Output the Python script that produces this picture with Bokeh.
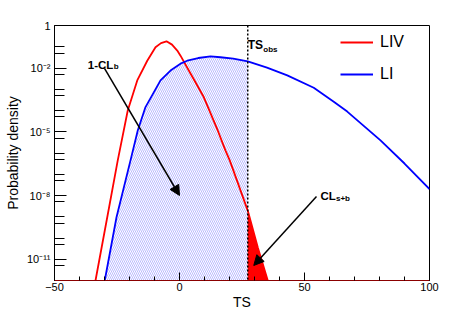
from bokeh.plotting import figure
from bokeh.models import (Range1d, FixedTicker, SingleIntervalTicker, Span, Arrow,
                          NormalHead, Label, Legend, LegendItem)
from bokeh.embed import file_html
from bokeh.resources import INLINE

# ---- data ----
ts_obs = 27.3

liv_ts = [-33.6, -28.9, -24.7, -20.7, -16.9, -12.9, -9.6, -7.4, -5.2, -3.0, -0.9,
          0.4, 4.4, 9.7, 15.3, 18.4, 20.1, 27.3, 31.3, 35.3]
liv_pd = [1.0e-12, 9.5e-10, 4.5e-7, 1.0e-4, 2.6e-3, 2.2e-2, 9.5e-2, 0.148, 0.18, 0.126,
          6.6e-2, 3.8e-2, 5.5e-3, 4.3e-4, 1.15e-5, 1.3e-6, 4.5e-7, 1.95e-9, 3.7e-11, 1.0e-12]

li_ts = [-29.9, -25.2, -19.6, -16.7, -13.6, -7.6, -3.6, 0.4, 3.1, 7.5, 12.4, 16.4,
         21.5, 27.3, 35.0, 43.1, 53.7, 61.7, 67.1, 80.4, 90.0, 100.0]
li_pd = [1.0e-12, 9.5e-10, 4.5e-7, 1.15e-5, 1.45e-4, 2.6e-3, 7.6e-3, 1.6e-2, 2.2e-2,
         2.95e-2, 3.5e-2, 3.2e-2, 2.75e-2, 2.05e-2, 1.05e-2, 4.5e-3, 1.17e-3, 2.6e-4,
         8.9e-5, 3.9e-6, 3.2e-7, 2.0e-8]

x_ticks = [-50, 0, 50, 100]
y_major = [1.0, 1e-2, 1e-5, 1e-8, 1e-11]
y_labels = ["1", "10\u207b\u00b2", "10\u207b\u2075", "10\u207b\u2078", "10\u207b\u00b9\u00b9"]
y_minor = [1e-1, 5e-2, 5e-3, 1e-3, 1e-4, 5e-4, 5e-5, 5e-6, 1e-6, 1e-7, 5e-7, 5e-8,
           5e-9, 1e-9, 1e-10, 5e-10, 5e-11, 5e-12]

arrow_b = (-30.0, 9.5e-3, 0.0, 1.0e-8)
arrow_sb = (54.8, 8.9e-9, 29.7, 5.1e-12)

y_min, y_max = 1e-12, 1.0
x_min, x_max = -50, 100

FONT = "Liberation Sans"

p = figure(width=469, height=320, y_axis_type="log", output_backend="svg",
           toolbar_location=None, x_range=Range1d(x_min, x_max),
           y_range=Range1d(y_min, y_max),
           min_border_left=54, min_border_top=25, min_border_right=40,
           min_border_bottom=40)
p.grid.visible = False
p.outline_line_color = "black"
p.outline_line_width = 1
p.background_fill_color = "white"
p.border_fill_color = "white"

# fills
fb_x = [t for t in li_ts if t <= ts_obs]
fb_y = [v for t, v in zip(li_ts, li_pd) if t <= ts_obs]
p.varea(x=fb_x, y1=[y_min] * len(fb_x), y2=fb_y, fill_alpha=0,
        hatch_pattern="\\", hatch_color="#8c8cff", hatch_alpha=0.6,
        hatch_scale=4, hatch_weight=1)

fr_x = [t for t in liv_ts if t >= ts_obs]
fr_y = [v for t, v in zip(liv_ts, liv_pd) if t >= ts_obs]
p.varea(x=fr_x, y1=[y_min] * len(fr_x), y2=fr_y, fill_color="#ff0000")

# curves
r_red = p.line(liv_ts, liv_pd, line_color="#ff0000", line_width=1.8)
r_blue = p.line(li_ts, li_pd, line_color="#0000ff", line_width=1.8)

# observed TS line
p.add_layout(Span(location=ts_obs, dimension="height", line_color="black",
                  line_dash="2 2", line_width=1.5))

# arrows
for a in (arrow_b, arrow_sb):
    p.add_layout(Arrow(x_start=a[0], y_start=a[1], x_end=a[2], y_end=a[3],
                       line_width=1.5, line_color="black",
                       end=NormalHead(size=10, fill_color="black", line_color="black")))

def lab(x, y, text, size, xoff=0):
    p.add_layout(Label(x=x, y=y, text=text, x_offset=xoff, text_font=FONT,
                       text_font_size=size, text_font_style="bold",
                       text_baseline="alphabetic", text_align="left",
                       text_color="black"))

lab(-36.7, 0.0141, "1-CL", "11.5px")
lab(-36.7, 0.0112, "b", "8px", 26)
lab(ts_obs, 0.115, "TS", "12px")
lab(ts_obs, 0.074, "obs", "8px", 15.5)
lab(56.4, 9.3e-9, "CL", "11.5px")
lab(56.4, 7.2e-9, "s+b", "8px", 15.5)

# axes
xa = p.xaxis[0]
xa.ticker = SingleIntervalTicker(interval=50, num_minor_ticks=5)
xa.major_label_overrides = {t: ("\u221250" if t < 0 else str(t)) for t in x_ticks}
xa.axis_label = "TS"
xa.axis_label_text_font = FONT
xa.axis_label_text_font_size = "14px"
xa.axis_label_text_font_style = "normal"
xa.axis_label_text_color = "black"
xa.axis_label_standoff = 0
xa.major_label_text_font = FONT
xa.major_label_text_font_size = "11px"
xa.major_label_text_color = "black"
xa.major_label_standoff = 2
xa.major_tick_in = 8
xa.major_tick_out = 0
xa.minor_tick_in = 4
xa.minor_tick_out = 0
xa.axis_line_color = "#8b0000"

ya = p.yaxis[0]
ya.ticker = FixedTicker(ticks=y_major, minor_ticks=y_minor)
ya.major_label_overrides = {t: l for t, l in zip(y_major, y_labels)}
ya.axis_label = "Probability density"
ya.axis_label_text_font = FONT
ya.axis_label_text_font_size = "14px"
ya.axis_label_text_font_style = "normal"
ya.axis_label_text_color = "black"
ya.axis_label_standoff = 3
ya.major_label_text_font = FONT
ya.major_label_text_font_size = "11px"
ya.major_label_text_color = "black"
ya.major_label_standoff = 4
ya.major_tick_in = 12
ya.major_tick_out = 0
ya.minor_tick_in = 10
ya.minor_tick_out = 0

# legend
legend = Legend(items=[LegendItem(label="LIV", renderers=[r_red]),
                       LegendItem(label="LI", renderers=[r_blue])],
                location=(286, 196), border_line_color=None,
                background_fill_alpha=0, padding=0, margin=0, spacing=12,
                glyph_width=33, glyph_height=20, label_height=20,
                label_standoff=7, label_text_font=FONT,
                label_text_font_size="16px", label_text_color="black")
p.add_layout(legend)

open("out.html", "w").write(file_html(p, INLINE))
